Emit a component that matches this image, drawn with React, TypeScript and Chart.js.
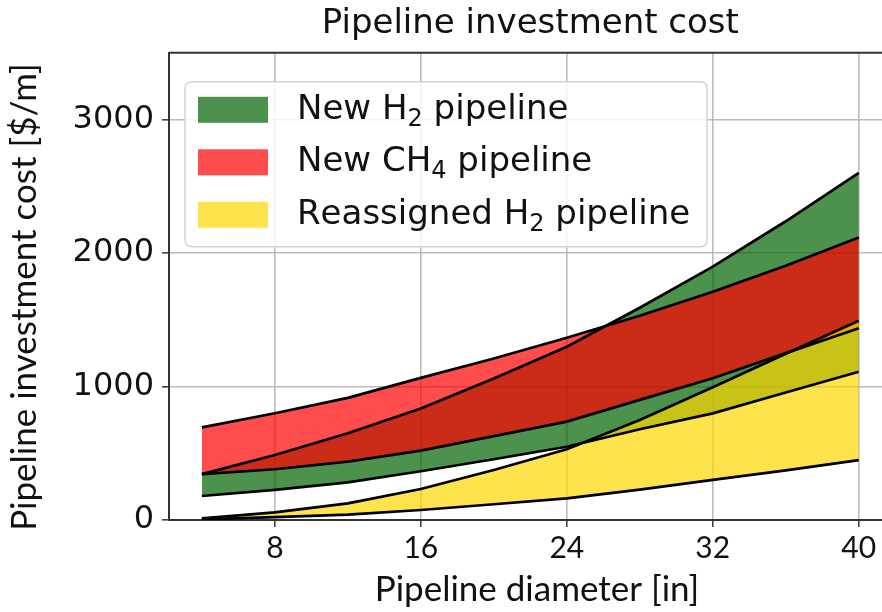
import React, { useEffect, useRef } from 'react';
import { Chart, registerables } from 'chart.js';

Chart.register(...registerables);

// Pipeline diameter [in]
const DIAMETERS = [4, 8, 12, 16, 20, 24, 28, 32, 36, 40];
// Investment cost [$/m]
const H2_NEW_LOW = [180, 225, 282, 365, 455, 549, 680, 799, 955, 1111];
const H2_NEW_HIGH = [344, 487, 650, 835, 1060, 1298, 1590, 1898, 2238, 2601];
const CH4_NEW_LOW = [344, 380, 437, 520, 628, 737, 900, 1062, 1250, 1436];
const CH4_NEW_HIGH = [694, 800, 915, 1065, 1210, 1365, 1530, 1710, 1905, 2117];
const H2_REASSIGNED_LOW = [5, 22, 40, 75, 118, 162, 228, 300, 372, 449];
const H2_REASSIGNED_HIGH = [12, 57, 125, 232, 375, 530, 750, 995, 1245, 1493];

const X_TICKS = [8, 16, 24, 32, 40];
const Y_TICKS = [0, 1000, 2000, 3000];
const LEGEND_LABELS = ['New H₂ pipeline', 'New CH₄ pipeline', 'Reassigned H₂ pipeline'];
const X_TITLE = 'Pipeline diameter [in]';
const Y_TITLE = 'Pipeline investment cost [$/m]';

const GREEN = 'rgba(0,100,0,0.7)';
const RED = 'rgba(255,0,0,0.7)';
const YELLOW = 'rgba(255,215,0,0.7)';
const LEGEND_COLORS = [GREEN, RED, YELLOW];

const SUBSCRIPTS = '₀₁₂₃₄₅₆₇₈₉';

const makeSet = (label: string, ys: number[], color: string, order: number, fill: any) => ({
  label,
  data: DIAMETERS.map((x, i) => ({ x, y: ys[i] })),
  borderColor: '#000',
  borderWidth: 2.7,
  pointRadius: 0,
  tension: 0,
  backgroundColor: color,
  fill,
  order,
});

// draws text, rendering unicode subscript digits as smaller lowered digits
const drawRichText = (ctx: CanvasRenderingContext2D, text: string, x: number, y: number, size: number) => {
  let cx = x;
  for (const ch of text) {
    const si = SUBSCRIPTS.indexOf(ch);
    if (si >= 0) {
      ctx.font = `${Math.round(size * 0.72)}px "DejaVu Sans"`;
      ctx.fillText(String(si), cx, y + size * 0.28);
      cx += ctx.measureText(String(si)).width;
    } else {
      ctx.font = `${size}px "DejaVu Sans"`;
      ctx.fillText(ch, cx, y);
      cx += ctx.measureText(ch).width;
    }
  }
};

const frameLegendTitles = {
  id: 'frameLegendTitles',
  afterDraw(chart: any) {
    const { ctx, chartArea } = chart;
    ctx.save();
    // top spine
    ctx.strokeStyle = '#333';
    ctx.lineWidth = 2;
    ctx.beginPath();
    ctx.moveTo(chartArea.left, chartArea.top);
    ctx.lineTo(chartArea.right, chartArea.top);
    ctx.stroke();

    // axis titles
    ctx.fillStyle = '#111';
    ctx.font = '35px Lato';
    ctx.textAlign = 'center';
    ctx.textBaseline = 'middle';
    ctx.fillText(X_TITLE, chartArea.left + 368, chartArea.bottom + 70);
    ctx.save();
    ctx.translate(25, chartArea.bottom - 223);
    ctx.rotate(-Math.PI / 2);
    ctx.fillText(Y_TITLE, 0, 0);
    ctx.restore();

    // legend box
    const x0 = chartArea.left + 16;
    const y0 = chartArea.top + 29;
    const w = 522;
    const h = 165;
    const r = 7;
    ctx.beginPath();
    ctx.moveTo(x0 + r, y0);
    ctx.lineTo(x0 + w - r, y0);
    ctx.quadraticCurveTo(x0 + w, y0, x0 + w, y0 + r);
    ctx.lineTo(x0 + w, y0 + h - r);
    ctx.quadraticCurveTo(x0 + w, y0 + h, x0 + w - r, y0 + h);
    ctx.lineTo(x0 + r, y0 + h);
    ctx.quadraticCurveTo(x0, y0 + h, x0, y0 + h - r);
    ctx.lineTo(x0, y0 + r);
    ctx.quadraticCurveTo(x0, y0, x0 + r, y0);
    ctx.closePath();
    ctx.fillStyle = 'rgba(255,255,255,0.85)';
    ctx.fill();
    ctx.strokeStyle = '#d4d4d4';
    ctx.lineWidth = 1.5;
    ctx.stroke();

    ctx.textBaseline = 'middle';
    ctx.textAlign = 'left';
    LEGEND_LABELS.forEach((label, i) => {
      const sy = y0 + 15 + i * 52.5;
      ctx.fillStyle = LEGEND_COLORS[i];
      ctx.fillRect(x0 + 13, sy, 70, 26);
      ctx.fillStyle = '#111';
      drawRichText(ctx, label, x0 + 112, sy + 13, 34);
    });
    ctx.restore();
  },
};

export default function App() {
  const ref = useRef<HTMLCanvasElement>(null);
  useEffect(() => {
    const chart = new Chart(ref.current as HTMLCanvasElement, {
      type: 'line',
      data: {
        datasets: [
          makeSet('New H₂ pipeline (low)', H2_NEW_LOW, GREEN, 3, false),
          makeSet('New H₂ pipeline', H2_NEW_HIGH, GREEN, 3, '-1'),
          makeSet('New CH₄ pipeline (low)', CH4_NEW_LOW, RED, 2, false),
          makeSet('New CH₄ pipeline', CH4_NEW_HIGH, RED, 2, '-1'),
          makeSet('Reassigned H₂ pipeline (low)', H2_REASSIGNED_LOW, YELLOW, 1, false),
          makeSet('Reassigned H₂ pipeline', H2_REASSIGNED_HIGH, YELLOW, 1, '-1'),
        ] as any,
      },
      options: {
        animation: false,
        responsive: false,
        devicePixelRatio: 1,
        layout: { padding: { left: 0, right: 8.4, top: 0, bottom: 0 } },
        plugins: {
          filler: { drawTime: 'beforeDatasetsDraw', propagate: false },
          legend: { display: false },
          tooltip: { enabled: false },
          title: {
            display: true,
            text: 'Pipeline investment cost',
            fullSize: false,
            color: '#111',
            font: { family: '"DejaVu Sans"', size: 34, weight: 'normal' },
            padding: { top: 4, bottom: 8 },
          },
        } as any,
        scales: {
          x: {
            type: 'linear',
            min: 2.2,
            max: 41.8,
            afterBuildTicks: (s: any) => {
              s.ticks = X_TICKS.map((v) => ({ value: v }));
            },
            afterFit: (s: any) => {
              s.height = 92;
            },
            grid: { color: 'rgba(176,176,176,0.85)', lineWidth: 1.6, tickLength: 7, tickColor: '#444' },
            border: { color: '#333', width: 2 },
            ticks: {
              color: '#111',
              font: { family: 'Lato', size: 30 },
              padding: 3,
              callback: (v: any) => String(v),
            },
            title: { display: false },
          },
          y: {
            type: 'linear',
            min: 0,
            max: 3500,
            afterBuildTicks: (s: any) => {
              s.ticks = Y_TICKS.map((v) => ({ value: v }));
            },
            afterFit: (s: any) => {
              s.width = 169;
            },
            grid: { color: 'rgba(176,176,176,0.85)', lineWidth: 1.6, tickLength: 7, tickColor: '#444' },
            border: { color: '#333', width: 2 },
            ticks: {
              color: '#111',
              font: { family: '"DejaVu Sans"', size: 32 },
              padding: 8,
              callback: (v: any) => String(v),
            },
            title: { display: false },
          },
        } as any,
      },
      plugins: [frameLegendTitles],
    });
    return () => chart.destroy();
  }, []);

  return (
    <div
      style={{
        position: 'fixed',
        left: 0,
        top: 0,
        width: 882,
        height: 612,
        overflow: 'hidden',
        background: '#fff',
      }}
    >
      <canvas ref={ref} width={900} height={612} style={{ display: 'block', width: 900, height: 612 }} />
    </div>
  );
}
